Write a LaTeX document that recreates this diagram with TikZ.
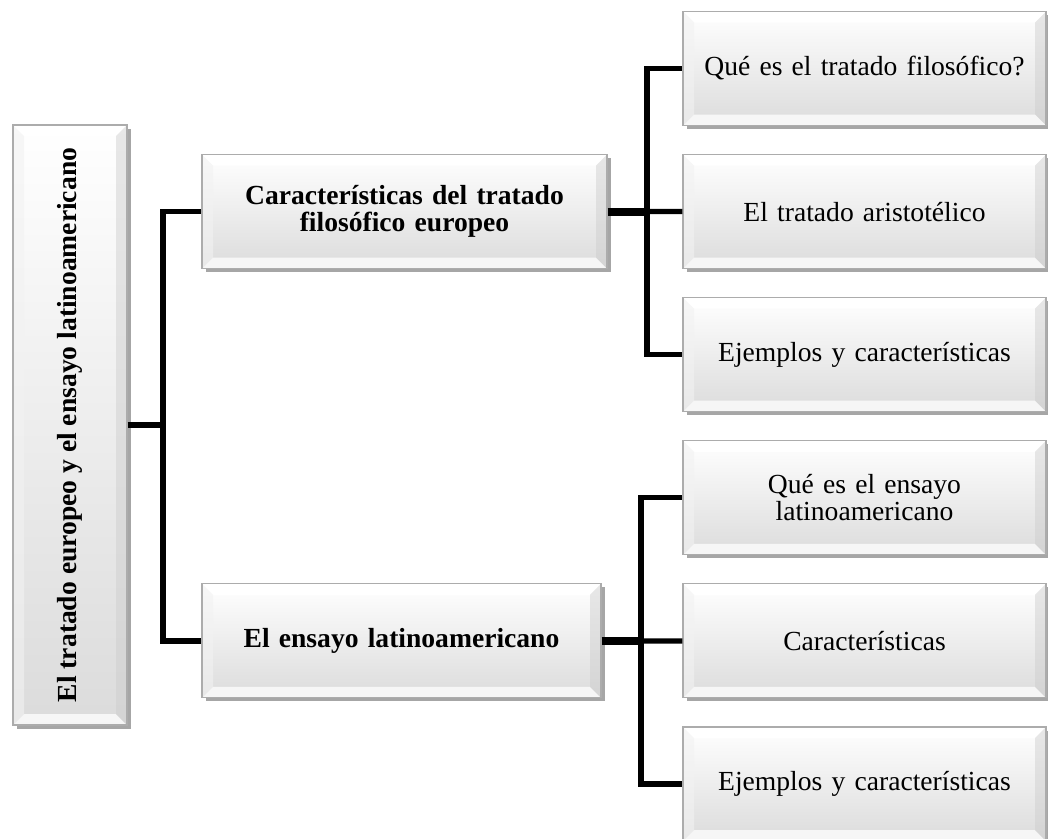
\documentclass[tikz,border=0pt]{standalone}
\usepackage{fontspec}
\setmainfont{Liberation Serif}
\usepackage{graphicx}
\usetikzlibrary{shapes,arrows,shadows,positioning}

\begin{document}
\begin{tikzpicture}[auto, node distance=2.862cm,>=latex']
			\tikzset{
				bevel/.style={path picture={
					\coordinate (nw) at (path picture bounding box.north west);
					\coordinate (se) at (path picture bounding box.south east);
					\coordinate (ne) at (nw -| se);
					\coordinate (sw) at (se -| nw);
					\fill[white] (nw) -- (ne) -- ([shift={(-0.22,-0.22)}]ne) -- ([shift={(0.22,-0.22)}]nw) -- cycle;
					\fill[white, opacity=0.75] (sw) -- (se) -- ([shift={(-0.22,0.22)}]se) -- ([shift={(0.22,0.22)}]sw) -- cycle;
					\fill[gray!10, opacity=0.6] (nw) -- (sw) -- ([shift={(0.22,0.22)}]sw) -- ([shift={(0.22,-0.22)}]nw) -- cycle;
					\fill[gray!40, opacity=0.45] (ne) -- (se) -- ([shift={(-0.22,0.22)}]se) -- ([shift={(-0.22,-0.22)}]ne) -- cycle;
				}},
				basebox/.style={rectangle, draw=gray!65, line width=0.6pt, top color=white, bottom color=gray!28, drop shadow={shadow xshift=0.07cm, shadow yshift=-0.07cm, fill=black, opacity=0.35}, bevel, text centered, inner sep=2pt, font=\fontsize{15.7}{15.2}\selectfont},
				rootbox/.style={basebox, minimum width=2.28cm, minimum height=12cm, font=\bfseries\fontsize{15.7}{15.2}\selectfont},
				mainbox/.style={basebox, minimum width=8.1cm, minimum height=2.28cm, text width=7.4cm, font=\bfseries\fontsize{15.7}{15.2}\selectfont},
				leafbox/.style={basebox, minimum width=7.26cm, minimum height=2.28cm, text width=7cm},
				conn/.style={line width=3pt},
				trunk/.style={line width=4.5pt},
			}
			\useasboundingbox (0,0) rectangle (20.96,-16.76);
			\node[rootbox](root) at (1.4,-8.5){\rotatebox{90}{El tratado europeo y el ensayo latinoamericano}};
			\node[leafbox](leafA) at (17.29,-1.37){Qué es el tratado filosófico?};
			\node[leafbox, below of=leafA](leafB){El tratado aristotélico};
			\node[leafbox, below of=leafB](leafC){Ejemplos y características};
			\node[leafbox, below of=leafC](leafD){Qué es el ensayo\\latinoamericano};
			\node[leafbox, below of=leafD](leafE){Características};
			\node[leafbox, below of=leafE](leafF){Ejemplos y características};
			\node[mainbox] (europeo) at (8.09,-4.232){Características del tratado\\filosófico europeo};
			\node[mainbox, minimum width=7.98cm] (ensayo) at (8.03,-12.818){El ensayo latinoamericano};
			%junctions
			\coordinate (jroot) at (3.26,-8.5);
			\coordinate (jeuro) at (12.94,-4.232);
			\coordinate (jens) at (12.82,-12.818);
			%Draw connectors
			\draw[conn] (root) -- (jroot);
			\draw[conn] (jroot) |- (europeo);
			\draw[conn] (jroot) |- (ensayo);
			\draw[trunk] (europeo) -- (jeuro);
			\draw[conn] (jeuro) |- (leafA);
			\draw[conn] (jeuro) -- (leafB);
			\draw[conn] (jeuro) |- (leafC);
			\draw[trunk] (ensayo) -- (jens);
			\draw[conn] (jens) |- (leafD);
			\draw[conn] (jens) -- (leafE);
			\draw[conn] (jens) |- (leafF);
		\end{tikzpicture}
\end{document}
